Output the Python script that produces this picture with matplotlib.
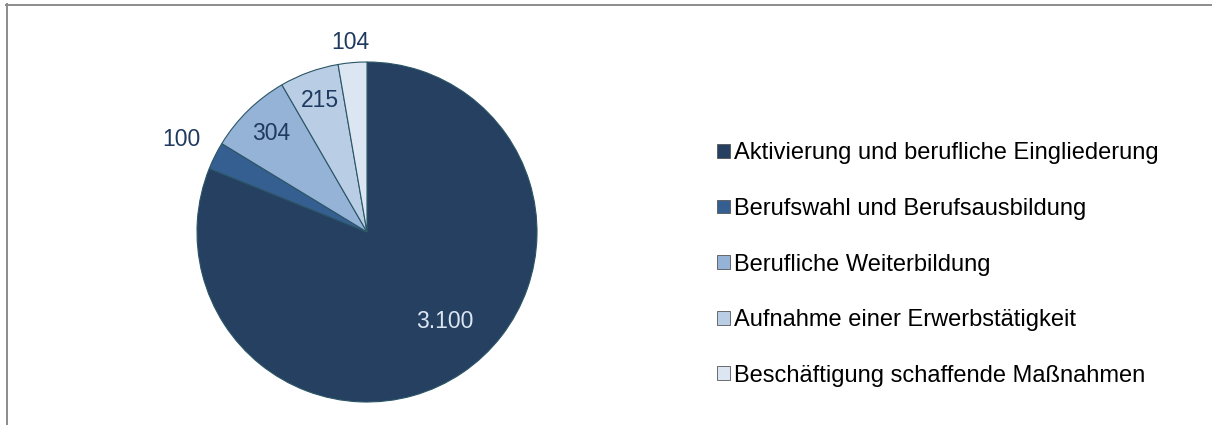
import numpy as np
import matplotlib.pyplot as plt
from matplotlib.lines import Line2D

plt.rcParams['font.family'] = ['Liberation Sans', 'DejaVu Sans']

# Data
categories = [
    "Aktivierung und berufliche Eingliederung",
    "Berufswahl und Berufsausbildung",
    "Berufliche Weiterbildung",
    "Aufnahme einer Erwerbstätigkeit",
    "Beschäftigung schaffende Maßnahmen",
]
values = [3100, 100, 304, 215, 104]
value_labels = ["3.100", "100", "304", "215", "104"]

colors = ["#254061", "#365F91", "#95B3D7", "#B9CDE5", "#DCE6F2"]
label_colors = ["#DCE6F2", "#1F3A5F", "#1F3A5F", "#1F3A5F", "#1F3A5F"]
label_dist = [0.70, 1.22, 0.81, 0.82, 1.12]
label_shift = [7, 0, 0, 0, 0]  # degrees

W, H = 1212, 425
fig = plt.figure(figsize=(W / 100, H / 100), dpi=100)

# pie axes: centre at (367, 232) px, radius 170 px
R = 170
cx, cy = 367, H - 232
lim = 1.25
box = 2 * lim * R
ax = fig.add_axes([(cx - box / 2) / W, (cy - box / 2) / H, box / W, box / H])

wedges, _ = ax.pie(values, colors=colors, startangle=90, counterclock=False,
                   wedgeprops=dict(edgecolor="#2B5566", linewidth=0.8))
ax.set_xlim(-lim, lim)
ax.set_ylim(-lim, lim)
ax.set_aspect("equal")
ax.axis("off")

for w, txt, d, s, c in zip(wedges, value_labels, label_dist, label_shift, label_colors):
    ang = np.deg2rad((w.theta1 + w.theta2) / 2 + s)
    ax.text(d * np.cos(ang), d * np.sin(ang), txt, ha="center", va="center",
            fontsize=16.5, color=c, clip_on=False)

leg = fig.legend(wedges, categories, loc="upper left",
                 bbox_to_anchor=(708 / W, 1 - 133 / H), frameon=False,
                 fontsize=17, handlelength=0.52, handleheight=0.52,
                 handletextpad=0.18, labelspacing=1.42, borderaxespad=0)
for h in leg.legend_handles:
    h.set_edgecolor("#555555")
    h.set_linewidth(0.6)

# outer frame (top and left edges)
fig.add_artist(Line2D([6 / W, 1], [1 - 4.5 / H, 1 - 4.5 / H], transform=fig.transFigure,
                      color="#8C8C8C", linewidth=1.4))
fig.add_artist(Line2D([6.5 / W, 6.5 / W], [0, 1 - 4 / H], transform=fig.transFigure,
                      color="#8C8C8C", linewidth=1.4))

fig.savefig("out.png", dpi=100)
